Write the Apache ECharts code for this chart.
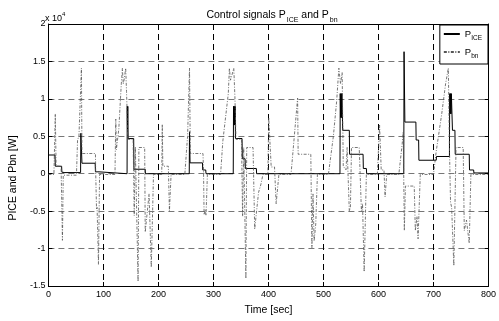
<!DOCTYPE html>
<html><head><meta charset="utf-8">
<script src="https://cdn.jsdelivr.net/npm/echarts@6/dist/echarts.min.js"></script>
<style>html,body{margin:0;padding:0;background:#fff}#c{width:499px;height:321px}</style>
</head><body><div id="c"></div>
<script>
// P_ICE [W] : time (s) and value
const iceTime = [0,12,12.5,24,24.5,30,58.5,59,60.5,61,85,85.5,92,92.5,143,143.3,143.8,144.3,145,155,155.5,176,176.5,256,256.5,257.5,280,280.5,286,286.5,336,336.5,337.2,338,338.7,339.5,340,352,352.5,357.5,358,378,378.5,530,530.5,531.3,532,532.8,533.5,535,547,547.5,572,572.5,578,578.5,646,646.5,648,668,668.5,673,673.5,705,705.5,729,729.5,730.3,731,731.8,732.5,734.5,739,739.5,765,765.5,773,773.5,800];
const iceValue = [2500,2500,1000,1000,200,150,150,5400,5400,1400,1400,250,250,0,0,9000,6000,9000,4700,4700,600,600,0,0,5600,1450,1450,500,500,0,0,9000,6500,9000,6500,9000,4700,4700,2000,2000,700,700,0,0,10700,7500,10700,7500,10700,5800,5800,2600,2600,700,700,0,0,16300,6900,6900,4500,4500,1800,1800,2300,2300,10700,8000,10700,8000,10700,5800,5800,2600,2600,500,500,100,100];
// P_bn [W] : time (s) and value
const bnTime = [0,10,11,12.5,14,23,25.5,27,51,53,55.5,60,61,85.5,86,87.5,88.5,91,93,121,122.5,123.5,128,132.5,134.5,136,137.5,140.5,142,143,144,154,156,158,160,163,164.5,175,176,183,187,191,206,207,208,218,220,223,248,251,253,256.5,258,281,282,283,285,286.5,289,313,317,327,329,331,333,337,339,341,351,353,355,357,359,360.5,372,375,382,386,390,399,400.5,405,411,414,419,441,453,454,477,479,481,483,486,489,509,518,524,528,531,534,536,541,543,547,549,551,565,569,571,574,578,598,602,605,610,612,615,637,643,645,647,649,665,667,670,672,676,700,705,715,722,727,729,731,733,737,741,754,756,760,765,768,800];
const bnValue = [-100,-100,3000,8000,1000,1000,-8900,-200,-200,4500,5000,14100,2700,2700,0,-4800,-4500,-12100,-100,-100,7300,3200,6000,12000,14100,12000,12500,14100,11000,8500,4600,4600,-5600,3600,3600,-14400,3500,3500,-7800,-2700,-12500,-100,-100,6600,1000,1000,-5000,-100,-100,3000,5000,14100,2700,2700,200,-5500,-4800,-5600,-100,-100,4300,10700,14100,12500,13000,14100,10300,4600,4600,-5700,3500,3500,-14000,3500,3500,-7400,-2500,-1500,-100,-100,7500,900,900,-4000,-100,-100,10100,2600,2600,-9900,-2700,-9000,-6700,-100,-100,5000,9700,14100,12000,13500,1000,500,3500,-5000,-4500,3500,3500,-5000,-4000,-13100,-100,-100,6500,500,500,-3100,-100,-100,3900,5600,-7600,-1650,-1650,-7600,-5700,-8700,-100,-100,3000,8000,12000,14100,3500,-3800,-4500,-12300,3500,3500,-7600,-6200,-9300,-100,-100];
const xMin = 0, xMax = 800, xStep = 100;
const yMin = -15000, yMax = 20000, yStep = 5000;

const FONT = 'Liberation Sans, Arial, sans-serif';
const chart = echarts.init(document.getElementById('c'), null, {renderer: 'canvas'});
const pairs = (t, v) => t.map((x, i) => [x, v[i]]);
const axBase = {
  type: 'value', min: xMin, max: xMax, interval: xStep,
  axisLine: {show: true, onZero: false, lineStyle: {color: '#000', width: 1}},
  axisTick: {show: true, inside: true, length: 4, lineStyle: {color: '#000'}}
};
const ayBase = {
  type: 'value', min: yMin, max: yMax, interval: yStep,
  axisLine: {show: true, onZero: false, lineStyle: {color: '#000', width: 1}},
  axisTick: {show: true, inside: true, length: 4, lineStyle: {color: '#000'}}
};
const subRich = {
  p: {fontFamily: FONT, fontSize: 10.5, fontWeight: 'normal', color: '#000', lineHeight: 14, verticalAlign: 'middle'},
  s: {fontFamily: FONT, fontSize: 7, fontWeight: 'normal', color: '#000', lineHeight: 14, verticalAlign: 'bottom', padding: [0, 0, -2, 1]}
};
chart.setOption({
  animation: false,
  backgroundColor: '#fff',
  title: {
    text: '{p|Control signals P}{s|ICE}{p| and P}{s|bn}',
    left: 267, top: 3, textAlign: 'center',
    textStyle: {fontWeight: 'normal', rich: subRich}
  },
  legend: {
    top: 25, right: 11, orient: 'vertical',
    itemWidth: 16, itemHeight: 8, itemGap: 5,
    padding: [4, 6, 4, 3],
    borderColor: '#000', borderWidth: 1, backgroundColor: '#fff',
    data: ['P_ICE', 'P_bn'],
    itemStyle: {opacity: 0},
    formatter: n => n === 'P_ICE' ? '{p|P}{s|ICE}' : '{p|P}{s|bn}',
    textStyle: {rich: {
      p: {fontFamily: FONT, fontSize: 9.5, color: '#000', lineHeight: 14, verticalAlign: 'middle'},
      s: {fontFamily: FONT, fontSize: 6.5, color: '#000', lineHeight: 14, verticalAlign: 'bottom', padding: [0, 0, -1, 0]}
    }}
  },
  graphic: [{
    type: 'text', left: 45, top: 11,
    style: {
      text: '{a|x 10}{b|4}',
      rich: {
        a: {fontFamily: FONT, fontSize: 9, fill: '#000', lineHeight: 12, verticalAlign: 'bottom'},
        b: {fontFamily: FONT, fontSize: 6, fill: '#000', lineHeight: 12, verticalAlign: 'top'}
      }
    }
  }],
  grid: {left: 43, right: 8, top: 24, bottom: 24, containLabel: false},
  xAxis: [
    Object.assign({}, axBase, {
      position: 'bottom',
      name: 'Time [sec]', nameLocation: 'middle', nameGap: 19,
      nameTextStyle: {fontFamily: FONT, fontSize: 10.5, color: '#000'},
      axisLabel: {color: '#000', fontFamily: FONT, fontSize: 9, margin: 4},
      splitLine: {show: true, lineStyle: {color: '#000', width: 1, type: [6, 4]}}
    }),
    Object.assign({}, axBase, {position: 'top', axisLabel: {show: false}, splitLine: {show: false}})
  ],
  yAxis: [
    Object.assign({}, ayBase, {
      position: 'left',
      name: 'PICE and Pbn [W]', nameLocation: 'middle', nameGap: 27,
      nameTextStyle: {fontFamily: FONT, fontSize: 10.5, color: '#000', padding: [0, 46, 0, 0]},
      axisLabel: {color: '#000', fontFamily: FONT, fontSize: 9, margin: 3, formatter: v => String(v / 10000)},
      splitLine: {show: true, lineStyle: {color: '#777', width: 1, type: [6, 4]}}
    }),
    Object.assign({}, ayBase, {position: 'right', axisLabel: {show: false}, splitLine: {show: false}})
  ],
  series: [
    {
      name: 'P_ICE', type: 'line', xAxisIndex: 0, yAxisIndex: 0,
      data: pairs(iceTime, iceValue), symbol: 'none', showSymbol: false,
      lineStyle: {color: '#000', width: 1}, itemStyle: {color: '#000'}, z: 3
    },
    {
      name: 'P_bn', type: 'line', xAxisIndex: 0, yAxisIndex: 0,
      data: pairs(bnTime, bnValue), symbol: 'none', showSymbol: false,
      lineStyle: {color: '#555', width: 0.8, type: [3, 1.5, 1, 1.5]}, itemStyle: {color: '#555'}, z: 4
    }
  ]
});
</script></body></html>
